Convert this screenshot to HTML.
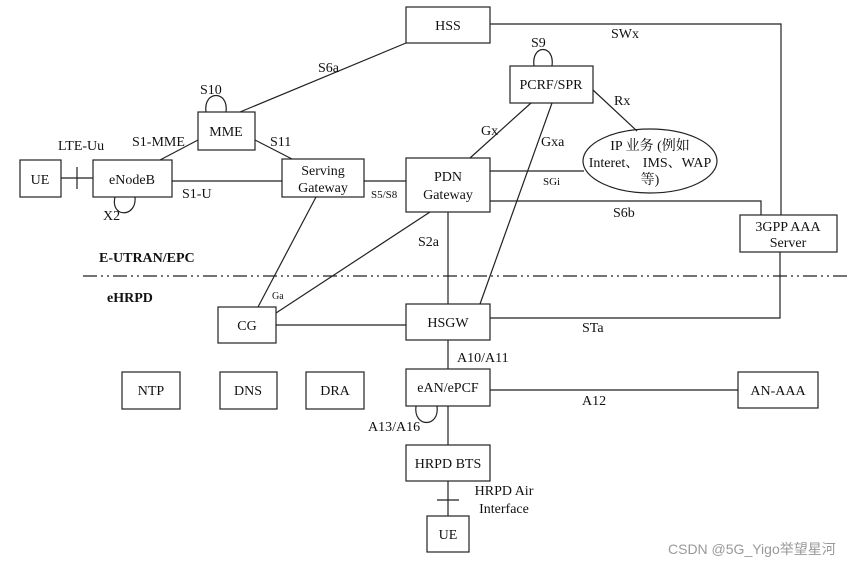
<!DOCTYPE html>
<html><head><meta charset="utf-8"><style>
body{margin:0;background:#fff}
svg text{font-family:"Liberation Serif","Noto Serif CJK SC",serif;font-size:14px;fill:#111}
</style></head><body>
<svg width="865" height="563" viewBox="0 0 865 563" xmlns="http://www.w3.org/2000/svg">
<g stroke="#222" stroke-width="1.2" fill="none">
<rect x="406" y="7" width="84" height="36"/>
<rect x="198" y="112" width="57" height="38"/>
<rect x="20" y="160" width="41" height="37"/>
<rect x="93" y="160" width="79" height="37"/>
<rect x="282" y="159" width="82" height="38"/>
<rect x="406" y="158" width="84" height="54"/>
<rect x="510" y="66" width="83" height="37"/>
<ellipse cx="650" cy="161" rx="67" ry="32"/>
<rect x="740" y="215" width="97" height="37"/>
<rect x="218" y="307" width="58" height="36"/>
<rect x="406" y="304" width="84" height="36"/>
<rect x="406" y="369" width="84" height="37"/>
<rect x="122" y="372" width="58" height="37"/>
<rect x="220" y="372" width="57" height="37"/>
<rect x="306" y="372" width="58" height="37"/>
<rect x="406" y="445" width="84" height="36"/>
<rect x="427" y="516" width="42" height="36"/>
<rect x="738" y="372" width="80" height="36"/>
<polyline points="490,24 781,24 781,215"/>
<polyline points="490,201 761,201 761,215"/>
<polyline points="490,318 780,318 780,252"/>
<line x1="490" y1="390" x2="738" y2="390"/>
<line x1="448" y1="212" x2="448" y2="304"/>
<line x1="448" y1="340" x2="448" y2="369"/>
<line x1="448" y1="406" x2="448" y2="445"/>
<line x1="448" y1="481" x2="448" y2="516"/>
<line x1="437" y1="500" x2="459" y2="500"/>
<line x1="552" y1="103" x2="480" y2="304"/>
<line x1="531" y1="103" x2="470" y2="158"/>
<line x1="593" y1="90" x2="637" y2="131"/>
<line x1="490" y1="171" x2="584" y2="171"/>
<line x1="364" y1="181" x2="406" y2="181"/>
<line x1="172" y1="181" x2="282" y2="181"/>
<line x1="61" y1="178" x2="93" y2="178"/>
<line x1="77" y1="167" x2="77" y2="189"/>
<line x1="255" y1="140" x2="292" y2="159"/>
<line x1="198" y1="140" x2="160" y2="160"/>
<line x1="240" y1="112" x2="406" y2="43"/>
<line x1="316" y1="197" x2="258" y2="307"/>
<line x1="430" y1="212" x2="276" y2="313"/>
<line x1="276" y1="325" x2="406" y2="325"/>
<line x1="83" y1="276" x2="850" y2="276" stroke-dasharray="14,4,2,4,2,4"/>
<path d="M206,112 C203,90 229,90 226,112"/>
<path d="M534,66 C531,44 555,44 552,66"/>
<path d="M115,197 C110,218 137,218 135,197"/>
<path d="M416,406 C413,428 440,428 437,406"/>
</g>
<g text-anchor="middle">
<text x="448" y="30">HSS</text>
<text x="226" y="136">MME</text>
<text x="40" y="184">UE</text>
<text x="132" y="184">eNodeB</text>
<text x="323" y="175">Serving</text>
<text x="323" y="192">Gateway</text>
<text x="448" y="181">PDN</text>
<text x="448" y="199">Gateway</text>
<text x="551" y="89">PCRF/SPR</text>
<text x="650" y="150">IP 业务 (例如</text>
<text x="650" y="167">Interet、 IMS、WAP</text>
<text x="650" y="184">等)</text>
<text x="788" y="231">3GPP AAA</text>
<text x="788" y="247">Server</text>
<text x="247" y="330">CG</text>
<text x="448" y="327">HSGW</text>
<text x="448" y="392">eAN/ePCF</text>
<text x="151" y="395">NTP</text>
<text x="248" y="395">DNS</text>
<text x="335" y="395">DRA</text>
<text x="448" y="468">HRPD BTS</text>
<text x="448" y="539">UE</text>
<text x="778" y="395">AN-AAA</text>
<text x="504" y="495">HRPD Air</text>
<text x="504" y="513">Interface</text>
</g>
<text x="318" y="72">S6a</text>
<text x="200" y="94">S10</text>
<text x="132" y="146">S1-MME</text>
<text x="270" y="146">S11</text>
<text x="58" y="150">LTE-Uu</text>
<text x="182" y="198">S1-U</text>
<text x="103" y="220">X2</text>
<text x="371" y="198" style="font-size:11px">S5/S8</text>
<text x="531" y="47">S9</text>
<text x="611" y="38">SWx</text>
<text x="614" y="105">Rx</text>
<text x="481" y="135">Gx</text>
<text x="541" y="146">Gxa</text>
<text x="543" y="185" style="font-size:11px">SGi</text>
<text x="613" y="217">S6b</text>
<text x="418" y="246">S2a</text>
<text x="99" y="262" style="font-weight:bold">E-UTRAN/EPC</text>
<text x="107" y="302" style="font-weight:bold">eHRPD</text>
<text x="272" y="299" style="font-size:10px">Ga</text>
<text x="582" y="332">STa</text>
<text x="457" y="362">A10/A11</text>
<text x="582" y="405">A12</text>
<text x="368" y="431">A13/A16</text>
<text x="668" y="554" style="font-family:'Liberation Sans','Noto Sans CJK SC',sans-serif;font-size:14px;fill:#999">CSDN @5G_Yigo举望星河</text>
</svg>
</body></html>
